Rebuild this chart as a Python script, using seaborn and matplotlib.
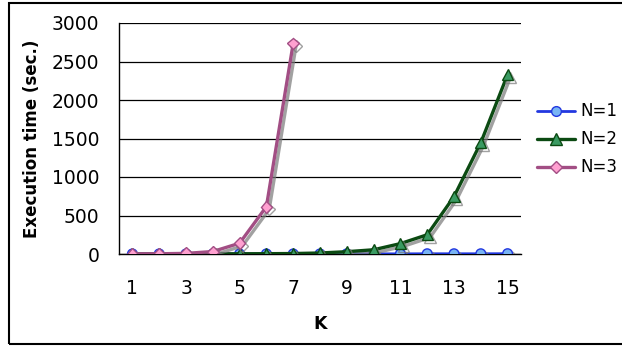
import numpy as np
import pandas as pd
import seaborn as sns
import matplotlib
matplotlib.use("Agg")
import matplotlib.pyplot as plt
import matplotlib.patheffects as pe
from matplotlib.patches import Rectangle

# Execution time (seconds) for each K, per value of N
k_values = list(range(1, 16))
n1_times = [1, 1, 1, 1, 1, 1, 1, 1, 2, 2, 2, 3, 3, 3, 4]
n2_times = [1, 1, 1, 2, 3, 4, 6, 13, 30, 55, 135, 250, 745, 1445, 2330]
n3_k = [1, 2, 3, 4, 5, 6, 7]
n3_times = [2, 3, 8, 32, 140, 615, 2735]
series_labels = ["N=1", "N=2", "N=3"]
y_ticks = [0, 500, 1000, 1500, 2000, 2500, 3000]
x_tick_labels = [1, 3, 5, 7, 9, 11, 13, 15]

df = pd.concat([
    pd.DataFrame({"K": k_values, "time": n1_times, "series": series_labels[0]}),
    pd.DataFrame({"K": k_values, "time": n2_times, "series": series_labels[1]}),
    pd.DataFrame({"K": n3_k, "time": n3_times, "series": series_labels[2]}),
])

sns.set_theme(style="white", rc={"text.color": "black", "axes.labelcolor": "black",
                                 "xtick.color": "black", "ytick.color": "black"})
plt.rcParams["font.family"] = ["DejaVu Sans"]

fig = plt.figure(figsize=(6.22, 3.47), dpi=100)
ax = fig.add_axes([119 / 622, 1 - 254 / 347, 402 / 622, 231 / 347])

styles = {
    "N=1": dict(color="#2238E0", marker="o", mfc="#78B4F4", mec="#2238E0", ms=7.0, lw=2.0),
    "N=2": dict(color="#0B4A12", marker="^", mfc="#3A9A62", mec="#0B4A12", ms=8.0, lw=2.4),
    "N=3": dict(color="#A24E84", marker="D", mfc="#FFA0D0", mec="#A24E84", ms=6.0, lw=2.4),
}

shadow = [pe.SimpleLineShadow(offset=(2, -2), shadow_color="#7a7a7a", alpha=0.7), pe.Normal()]

for name in series_labels:
    st = styles[name]
    sub = df[df["series"] == name]
    sns.lineplot(data=sub, x="K", y="time", ax=ax, color=st["color"], lw=st["lw"],
                 marker=st["marker"], markersize=st["ms"], markerfacecolor=st["mfc"],
                 markeredgecolor=st["mec"], markeredgewidth=1.0, label=name,
                 path_effects=shadow, zorder=3)

ax.set_xlim(0.5, 15.5)
ax.set_ylim(0, 3000)
ax.set_yticks(y_ticks)
ax.set_yticklabels([str(v) for v in y_ticks], fontsize=13.5)
ax.set_xticks(x_tick_labels)
ax.set_xticklabels([str(v) for v in x_tick_labels], fontsize=13.5)
ax.set_xticks(np.arange(0.5, 16, 1.0), minor=True)
ax.tick_params(axis="x", which="major", length=0, pad=18)
ax.tick_params(axis="x", which="minor", length=5, width=1, color="black", direction="out")
ax.tick_params(axis="y", which="major", length=6, width=1, color="black", direction="out", pad=8)

ax.yaxis.grid(True, color="black", lw=0.9)
ax.set_axisbelow(True)
for side in ["top", "right"]:
    ax.spines[side].set_visible(False)
for side in ["left", "bottom"]:
    ax.spines[side].set_color("black")
    ax.spines[side].set_linewidth(1.0)

ax.set_xlabel("K", fontsize=12.5, fontweight="bold", labelpad=12)
ax.set_ylabel("Execution time (sec.)", fontsize=12, fontweight="bold", labelpad=8)

leg = ax.legend(loc="center left", bbox_to_anchor=(1.04, 0.496), frameon=False,
                fontsize=12, handlelength=2.3, handletextpad=0.3, labelspacing=0.6,
                borderpad=0, borderaxespad=0)
for handle in leg.get_lines():
    handle.set_path_effects([])

fig.patches.append(Rectangle((8.5 / 622, 3 / 347), 1.2, 341 / 347, transform=fig.transFigure,
                             fill=False, edgecolor="black", lw=1.5))

fig.savefig("out.png", dpi=100)
